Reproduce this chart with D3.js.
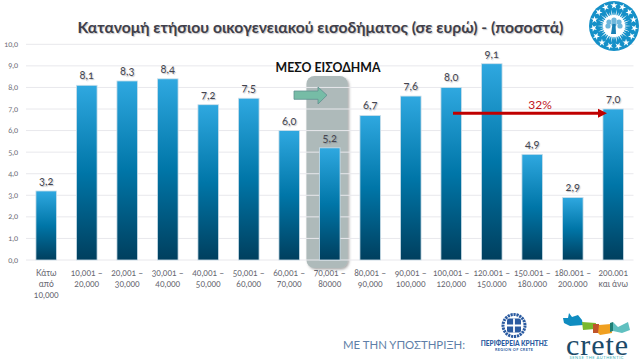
<!DOCTYPE html>
<html><head><meta charset="utf-8">
<script src="https://cdn.jsdelivr.net/npm/d3@7"></script>
<style>html,body{margin:0;padding:0;background:#fff;overflow:hidden}svg{display:block}text{font-family:Lato,"Open Sans",sans-serif}
.num{font-variant-numeric:oldstyle-nums;font-feature-settings:"onum" 1}
.sh{text-shadow:1px 1px 1px rgba(60,60,70,.3)}</style>
</head><body><svg id="c" width="640" height="360"></svg>
<script>
const categories=[["Κάτω","από","10,000"],["10,001 –","20,000"],["20,001 –","30,000"],["30,001 –","40,000"],["40,001 –","50,000"],["50,001 –","60,000"],["60,001 –","70,000"],["70,001 –","80000"],["80,001 –","90,000"],["90,001 –","100,000"],["100,001 –","120,000"],["120.001 –","150.000"],["150.001 –","180.000"],["180.001 –","200.000"],["200.001","και άνω"]];
const values=[3.2,8.1,8.3,8.4,7.2,7.5,6.0,5.2,6.7,7.6,8.0,9.1,4.9,2.9,7.0];
const yTicks=[0,1,2,3,4,5,6,7,8,9,10];
const fmt=v=>v.toFixed(1).replace(".",",");
const svg=d3.select("#c");
const defs=svg.append("defs");
const g=defs.append("linearGradient").attr("id","bar").attr("x1",0).attr("x2",0).attr("y1",0).attr("y2",1);
g.append("stop").attr("offset","0%").attr("stop-color","#2fa8e0");
g.append("stop").attr("offset","50%").attr("stop-color","#0076a8");
g.append("stop").attr("offset","100%").attr("stop-color","#003f5e");
const f=defs.append("filter").attr("id","shadow").attr("x","-20%").attr("y","-20%").attr("width","140%").attr("height","140%");
f.append("feDropShadow").attr("dx",1.5).attr("dy",1.5).attr("stdDeviation",1.2).attr("flood-color","#555").attr("flood-opacity",0.5);
const x=d3.scaleBand().domain(d3.range(15)).range([26,633.5]).paddingInner(0.49).paddingOuter(0.245);
const y=d3.scaleLinear().domain([0,10]).range([260,44.3]);
svg.append("text").attr("class","sh").attr("x",320.5).attr("y",33).attr("text-anchor","middle").attr("font-size",15.7).attr("font-weight",700).attr("fill","#3f3f4a").text("Κατανομή ετήσιου οικογενειακού εισοδήματος (σε ευρώ) - (ποσοστά)");
const hx=x(7);
svg.append("rect").attr("x",hx-13).attr("y",76).attr("width",x.bandwidth()*2).attr("height",192).attr("rx",8).attr("fill","#aebaba").attr("filter","url(#shadow)");
svg.append("g").selectAll("line").data(yTicks).join("line").attr("x1",26).attr("x2",633.5).attr("y1",d=>y(d)).attr("y2",d=>y(d)).attr("stroke","#e8e8ec").attr("stroke-width",1);
svg.append("g").selectAll("text").data(yTicks).join("text").attr("class","num").attr("x",18).attr("y",d=>y(d)+2.5).attr("text-anchor","end").attr("font-size",7.5).attr("fill","#6a6a74").text(fmt);
svg.append("g").selectAll("rect").data(values).join("rect").attr("x",(d,i)=>x(i)).attr("y",d=>y(d)).attr("width",x.bandwidth()).attr("height",d=>y(0)-y(d)).attr("fill","url(#bar)").attr("stroke","#cfe0ea").attr("stroke-width",0.8);
svg.append("g").selectAll("text").data(values).join("text").attr("class","num sh").attr("x",(d,i)=>x(i)+x.bandwidth()/2).attr("y",d=>y(d)-6).attr("text-anchor","middle").attr("font-size",11).attr("fill","#44444e").text(fmt);
const cat=svg.append("g").selectAll("text").data(categories).join("text").attr("class","num").attr("text-anchor","middle").attr("font-size",8.5).attr("fill","#66666f");
cat.each(function(lines,i){d3.select(this).selectAll("tspan").data(lines).join("tspan").attr("x",x(i)+x.bandwidth()/2).attr("y",(l,k)=>275.5+k*11.3).text(l=>l);});
svg.append("text").attr("x",328).attr("y",72).attr("text-anchor","middle").attr("font-size",12.3).attr("font-weight",700).attr("fill","#111").text("ΜΕΣΟ ΕΙΣΟΔΗΜΑ");
svg.append("path").attr("d","M294 91H318V87L327 95.2L318 104V99.3H294Z").attr("fill","#76bca6").attr("stroke","#5f8f90").attr("stroke-width",0.8);
const ay=y(6.8);
svg.append("line").attr("x1",453).attr("x2",598).attr("y1",ay).attr("y2",ay).attr("stroke","#c00000").attr("stroke-width",3);
svg.append("path").attr("d",`M607 ${ay}L598 ${ay-4.5}V${ay+4.5}Z`).attr("fill","#c00000");
svg.append("text").attr("x",540).attr("y",109).attr("text-anchor","middle").attr("font-size",12).attr("fill","#c0141c").text("32%");
svg.append("text").attr("x",343).attr("y",348.5).attr("font-size",11.4).attr("fill","#5f7fa8").text("ΜΕ ΤΗΝ ΥΠΟΣΤΗΡΙΞΗ:");
// round logo, top right
const logo=svg.append("g").attr("transform","translate(614,26)");
logo.append("circle").attr("r",25).attr("fill","#1590c8");
logo.selectAll("path.ray").data(d3.range(36)).join("path").attr("class","ray").attr("d",d=>{const a=d*Math.PI/18,r=d%2?14.5:17;return `M${Math.cos(a-.09)*9} ${Math.sin(a-.09)*9}L${Math.cos(a)*r} ${Math.sin(a)*r}L${Math.cos(a+.09)*9} ${Math.sin(a+.09)*9}Z`;}).attr("fill","#fff");
logo.append("circle").attr("r",11).attr("fill","#fff");
logo.selectAll("circle.leaf").data([[-5,-4],[0,-6],[5,-4],[-6,0],[0,-2],[6,0]]).join("circle").attr("class","leaf").attr("cx",d=>d[0]).attr("cy",d=>d[1]).attr("r",2.6).attr("fill","#6fb7dc");
logo.append("path").attr("d","M-1.5 -2H1.5L2 8H-3Z").attr("fill","#1a80b4");
const star=d3.symbol(d3.symbolStar,16);
logo.selectAll("path.st").data(d3.range(15)).join("path").attr("class","st").attr("d",star).attr("transform",d=>{const a=d*2*Math.PI/15-Math.PI/2;return `translate(${Math.cos(a)*20.5},${Math.sin(a)*20.5}) rotate(${d*24})`;}).attr("fill","#fff");
// regional emblem
const em=svg.append("g").attr("transform","translate(514,325.5)");
em.append("circle").attr("r",11).attr("fill","none").attr("stroke","#2a5aa0").attr("stroke-width",3).attr("stroke-dasharray","2.2 0.8");
em.append("rect").attr("x",-7).attr("y",-7).attr("width",14).attr("height",14).attr("rx",2).attr("fill","#2a5aa0");
em.append("path").attr("d","M0 -7V7M-7 0H7").attr("stroke","#fff").attr("stroke-width",1.8);
svg.append("text").attr("x",514.3).attr("y",346).attr("text-anchor","middle").attr("font-size",6.8).attr("font-weight",900).attr("fill","#2a5aa0").attr("textLength",67).attr("lengthAdjust","spacingAndGlyphs").text("ΠΕΡΙΦΕΡΕΙΑ ΚΡΗΤΗΣ");
svg.append("text").attr("x",514).attr("y",351).attr("text-anchor","middle").attr("font-size",3.8).attr("font-weight",700).attr("fill","#2a5aa0").attr("textLength",38).text("REGION OF CRETE");
// crete brand
[["#0f8cc0","M563 318L568 318L569 313L572 317L578 315L582 320L583 325L570 326L564 323Z"],
 ["#7ab82e","M582 322L596 323L595 329L583 330Z"],
 ["#c0542a","M593 324L599 324L599 333L593 333Z"],
 ["#f0a020","M599 325L611 324L612 333L600 335L598 333Z"],
 ["#1f7f74","M610 323L613 322L613 331L610 332Z"],
 ["#60c0c0","M613 322L618 327L628 322L630 330L622 333L613 331Z"]].forEach(s=>svg.append("path").attr("d",s[1]).attr("fill",s[0]));
svg.append("text").attr("x",566).attr("y",354.5).attr("font-size",30).style("font-family","'Liberation Serif'").attr("fill","#1c4a68").attr("textLength",62).text("crete");
svg.append("text").attr("x",596.5).attr("y",359).attr("text-anchor","middle").attr("font-size",4).attr("fill","#3ab0b8").attr("textLength",54).text("SENSE THE AUTHENTIC");
</script></body></html>
